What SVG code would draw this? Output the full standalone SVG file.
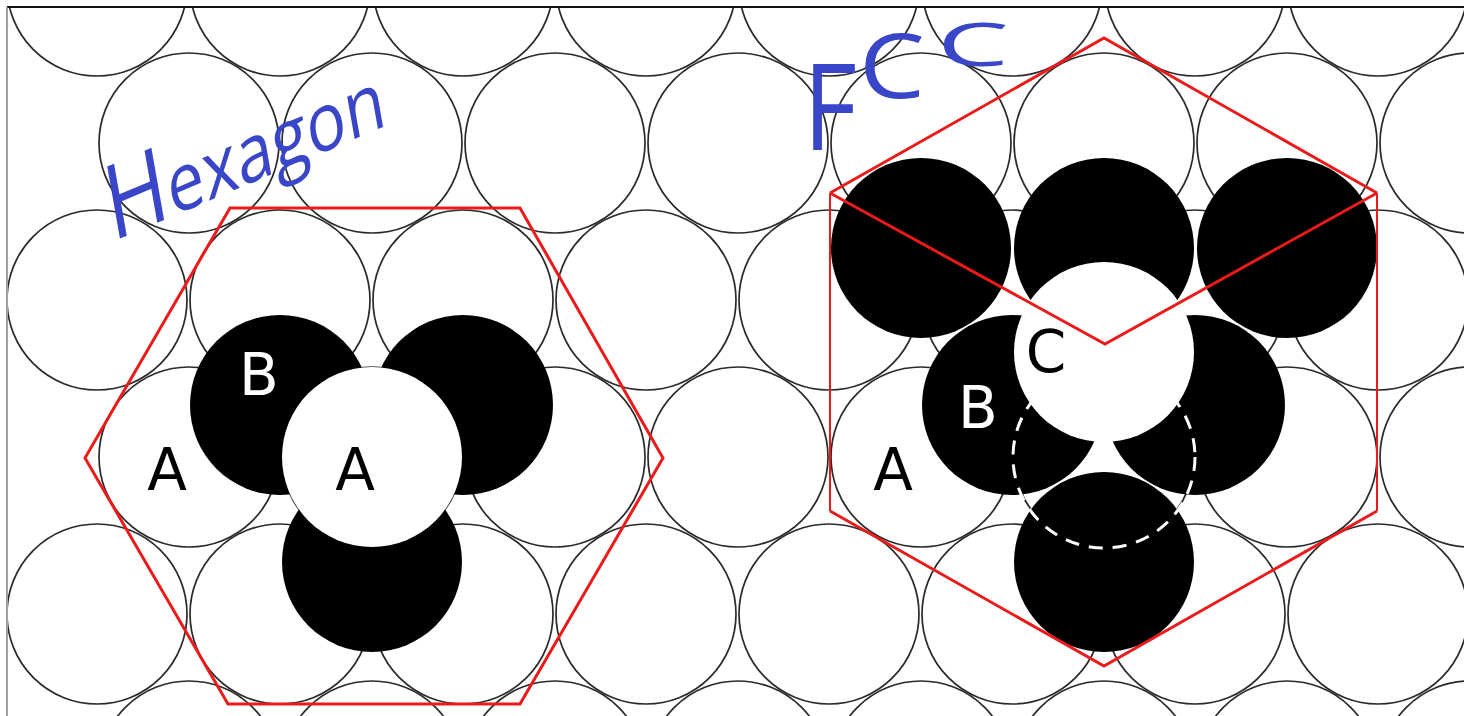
<svg xmlns="http://www.w3.org/2000/svg" width="1464" height="716" viewBox="0 0 1464 716">
  <defs>
    <style>
      .lat { fill: none; stroke: #2a2a2a; stroke-width: 1.7; }
      .blk { fill: #000; }
      .wht { fill: #fff; }
      .dash { fill: none; stroke: #fff; stroke-width: 3; stroke-dasharray: 14 10; }
      .red { fill: none; stroke: #ec1b1b; stroke-width: 3; stroke-linejoin: miter; }
      .red-thin { fill: none; stroke: #ec1b1b; stroke-width: 2; }
      .lbl { font-family: "DejaVu Sans", "Liberation Sans", sans-serif; font-size: 58px; text-anchor: middle; }
      .lbl-dark { fill: #000; }
      .lbl-light { fill: #fff; }
      .hand { font-family: "Open Sans", "DejaVu Sans", sans-serif; font-weight: 400; fill: #3a46c8; }
    </style>
    <clipPath id="sheet">
      <rect x="8" y="8" width="1456" height="708"/>
    </clipPath>
  </defs>

  <rect width="1464" height="716" fill="#fff"/>

  <g clip-path="url(#sheet)">
    <!-- close-packed base layer (A sites), hexagonal lattice: dx = 183, dy = 157 -->
    <g id="lattice">
      <g id="row0">
        <circle class="lat" cx="97" cy="-14" r="90"/>
        <circle class="lat" cx="280" cy="-14" r="90"/>
        <circle class="lat" cx="463" cy="-14" r="90"/>
        <circle class="lat" cx="646" cy="-14" r="90"/>
        <circle class="lat" cx="829" cy="-14" r="90"/>
        <circle class="lat" cx="1012" cy="-14" r="90"/>
        <circle class="lat" cx="1195" cy="-14" r="90"/>
        <circle class="lat" cx="1378" cy="-14" r="90"/>
      </g>
      <g id="row1">
        <circle class="lat" cx="189" cy="143" r="90"/>
        <circle class="lat" cx="372" cy="143" r="90"/>
        <circle class="lat" cx="555" cy="143" r="90"/>
        <circle class="lat" cx="738" cy="143" r="90"/>
        <circle class="lat" cx="921" cy="143" r="90"/>
        <circle class="lat" cx="1104" cy="143" r="90"/>
        <circle class="lat" cx="1287" cy="143" r="90"/>
        <circle class="lat" cx="1470" cy="143" r="90"/>
      </g>
      <g id="row2">
        <circle class="lat" cx="97" cy="300" r="90"/>
        <circle class="lat" cx="280" cy="300" r="90"/>
        <circle class="lat" cx="463" cy="300" r="90"/>
        <circle class="lat" cx="646" cy="300" r="90"/>
        <circle class="lat" cx="829" cy="300" r="90"/>
        <circle class="lat" cx="1012" cy="300" r="90"/>
        <circle class="lat" cx="1195" cy="300" r="90"/>
        <circle class="lat" cx="1378" cy="300" r="90"/>
      </g>
      <g id="row3">
        <circle class="lat" cx="189" cy="457" r="90"/>
        <circle class="lat" cx="372" cy="457" r="90"/>
        <circle class="lat" cx="555" cy="457" r="90"/>
        <circle class="lat" cx="738" cy="457" r="90"/>
        <circle class="lat" cx="921" cy="457" r="90"/>
        <circle class="lat" cx="1104" cy="457" r="90"/>
        <circle class="lat" cx="1287" cy="457" r="90"/>
        <circle class="lat" cx="1470" cy="457" r="90"/>
      </g>
      <g id="row4">
        <circle class="lat" cx="97" cy="614" r="90"/>
        <circle class="lat" cx="280" cy="614" r="90"/>
        <circle class="lat" cx="463" cy="614" r="90"/>
        <circle class="lat" cx="646" cy="614" r="90"/>
        <circle class="lat" cx="829" cy="614" r="90"/>
        <circle class="lat" cx="1012" cy="614" r="90"/>
        <circle class="lat" cx="1195" cy="614" r="90"/>
        <circle class="lat" cx="1378" cy="614" r="90"/>
      </g>
      <g id="row5">
        <circle class="lat" cx="189" cy="771" r="90"/>
        <circle class="lat" cx="372" cy="771" r="90"/>
        <circle class="lat" cx="555" cy="771" r="90"/>
        <circle class="lat" cx="738" cy="771" r="90"/>
        <circle class="lat" cx="921" cy="771" r="90"/>
        <circle class="lat" cx="1104" cy="771" r="90"/>
        <circle class="lat" cx="1287" cy="771" r="90"/>
        <circle class="lat" cx="1470" cy="771" r="90"/>
      </g>
    </g>

    <!-- hexagonal (ABAB) stacking: B layer, then A again on top -->
    <g id="hcp-stack">
      <circle class="blk" cx="280" cy="405" r="90"/>
      <circle class="blk" cx="463" cy="405" r="90"/>
      <circle class="blk" cx="372" cy="562" r="90"/>
      <circle class="wht" cx="372" cy="457" r="90"/>
    </g>

    <!-- face-centred cubic (ABC) stacking: B layer, C on top, hidden A below -->
    <g id="fcc-stack">
      <circle class="blk" cx="921" cy="248" r="90"/>
      <circle class="blk" cx="1104" cy="248" r="90"/>
      <circle class="blk" cx="1287" cy="248" r="90"/>
      <circle class="blk" cx="1012" cy="405" r="90"/>
      <circle class="blk" cx="1195" cy="405" r="90"/>
      <circle class="blk" cx="1104" cy="562" r="90"/>
      <circle class="wht" cx="1104" cy="352" r="90"/>
      <circle class="dash" cx="1104" cy="457" r="91"/>
    </g>

    <!-- unit-cell outlines -->
    <g id="hex-cell">
      <polygon class="red" points="230,208 520,208 663,458 520,704 228,704 85,458"/>
    </g>
    <g id="fcc-cell">
      <path class="red" d="M830,193 L1104,38 L1377,193 M1377,511 L1104,666 L830,511 M830,193 L1105,344 L1377,193"/>
      <path class="red-thin" d="M1377,193 V511 M830,511 V193"/>
    </g>

    <!-- layer labels -->
    <g id="labels">
      <text class="lbl lbl-dark" x="167" y="490">A</text>
      <text class="lbl lbl-light" x="259" y="395">B</text>
      <text class="lbl lbl-dark" x="355" y="490">A</text>
      <text class="lbl lbl-dark" x="893" y="490">A</text>
      <text class="lbl lbl-light" x="978" y="428">B</text>
      <text class="lbl lbl-dark" x="1046" y="372">C</text>
    </g>
  </g>

  <!-- handwritten titles -->
  <g id="title-hexagon">
    <text class="hand" transform="translate(112,242) rotate(-23) skewX(-13)" font-size="78" textLength="300" lengthAdjust="spacingAndGlyphs"><tspan font-size="100">H</tspan>exagon</text>
  </g>
  <g id="title-fcc">
    <text class="hand"><tspan x="803" y="150" font-size="120" textLength="54" lengthAdjust="spacingAndGlyphs">F</tspan><tspan x="859" y="98" font-size="90" textLength="66" lengthAdjust="spacingAndGlyphs">C</tspan><tspan x="937" y="66" font-size="60" textLength="72" lengthAdjust="spacingAndGlyphs">C</tspan></text>
  </g>

  <!-- sheet border -->
  <line x1="7" y1="7" x2="1464" y2="7" stroke="#111" stroke-width="2"/>
  <line x1="7" y1="7" x2="7" y2="716" stroke="#8a8a8a" stroke-width="1.6"/>
</svg>
